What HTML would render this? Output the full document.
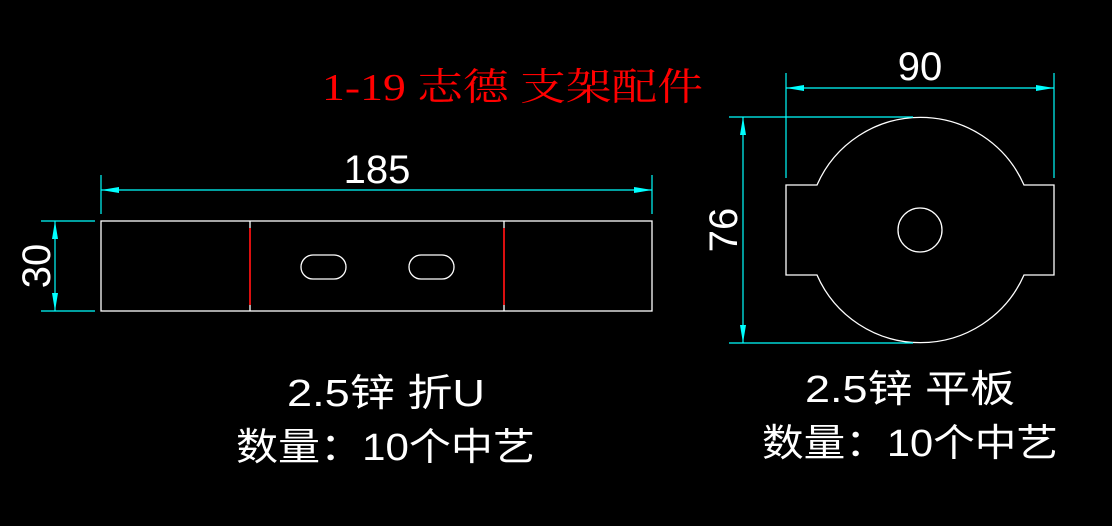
<!DOCTYPE html>
<html><head><meta charset="utf-8"><style>html,body{margin:0;padding:0;background:#000;}svg{display:block}</style></head>
<body>
<svg width="1112" height="526" viewBox="0 0 1112 526" xmlns="http://www.w3.org/2000/svg">
<rect width="1112" height="526" fill="#000"/>
<g fill="none" stroke="#fff" stroke-width="1.3">
<rect x="101" y="221" width="551" height="90"/>
<line x1="250" y1="221" x2="250" y2="311"/>
<line x1="504" y1="221" x2="504" y2="311"/>
<rect x="301" y="255" width="45" height="24" rx="12"/>
<rect x="409" y="255" width="45" height="24" rx="12"/>
<path d="M817,185 A113,113 0 0 1 1024,185 L1054,185 L1054,275 L1024,275 A113,113 0 0 1 817,275 L786,275 L786,185 Z"/>
<circle cx="920" cy="230" r="22"/>
</g>
<g stroke="#f00" stroke-width="1.6">
<line x1="250" y1="228" x2="250" y2="305"/>
<line x1="504" y1="228" x2="504" y2="305"/>
</g>
<g stroke="#0ff" stroke-width="1.2" fill="none">
<line x1="101" y1="175" x2="101" y2="214"/>
<line x1="652" y1="175" x2="652" y2="214"/>
<line x1="101" y1="190" x2="652" y2="190"/>
<line x1="41" y1="221" x2="95" y2="221"/>
<line x1="41" y1="311" x2="95" y2="311"/>
<line x1="55" y1="221" x2="55" y2="311"/>
<line x1="786" y1="73" x2="786" y2="178"/>
<line x1="1054" y1="73" x2="1054" y2="178"/>
<line x1="786" y1="88" x2="1054" y2="88"/>
<line x1="729" y1="117" x2="913" y2="117"/>
<line x1="729" y1="343" x2="913" y2="343"/>
<line x1="743" y1="117" x2="743" y2="343"/>
</g>
<g fill="#0ff">
<polygon points="101,190 119,187 119,193"/>
<polygon points="652,190 634,187 634,193"/>
<polygon points="55,221 52,239 58,239"/>
<polygon points="55,311 52,293 58,293"/>
<polygon points="786,88 804,85 804,91"/>
<polygon points="1054,88 1036,85 1036,91"/>
<polygon points="743,117 740,135 746,135"/>
<polygon points="743,343 740,325 746,325"/>
</g>
<g fill="#fff" font-family="'Liberation Sans', sans-serif" font-size="40">
<text x="377" y="183" text-anchor="middle">185</text>
<text x="920" y="80" text-anchor="middle">90</text>
<text transform="translate(50,266) rotate(-90)" text-anchor="middle">30</text>
<text transform="translate(737,230) rotate(-90)" text-anchor="middle">76</text>
</g>
<text x="322" y="100" fill="#f00" font-family="'Liberation Serif','Noto Serif CJK SC',serif" font-size="38" textLength="381" lengthAdjust="spacingAndGlyphs">1-19 志德 支架配件</text>
<g fill="#fff" font-family="'Liberation Sans','Noto Sans CJK SC',sans-serif" font-size="38">
<text x="287" y="406" textLength="198" lengthAdjust="spacingAndGlyphs">2.5锌 折U</text>
<text x="236" y="460" textLength="299" lengthAdjust="spacingAndGlyphs">数量：10个中艺</text>
<text x="805" y="402" textLength="210" lengthAdjust="spacingAndGlyphs">2.5锌 平板</text>
<text x="762" y="456" textLength="296" lengthAdjust="spacingAndGlyphs">数量：10个中艺</text>
</g>
</svg>
</body></html>
